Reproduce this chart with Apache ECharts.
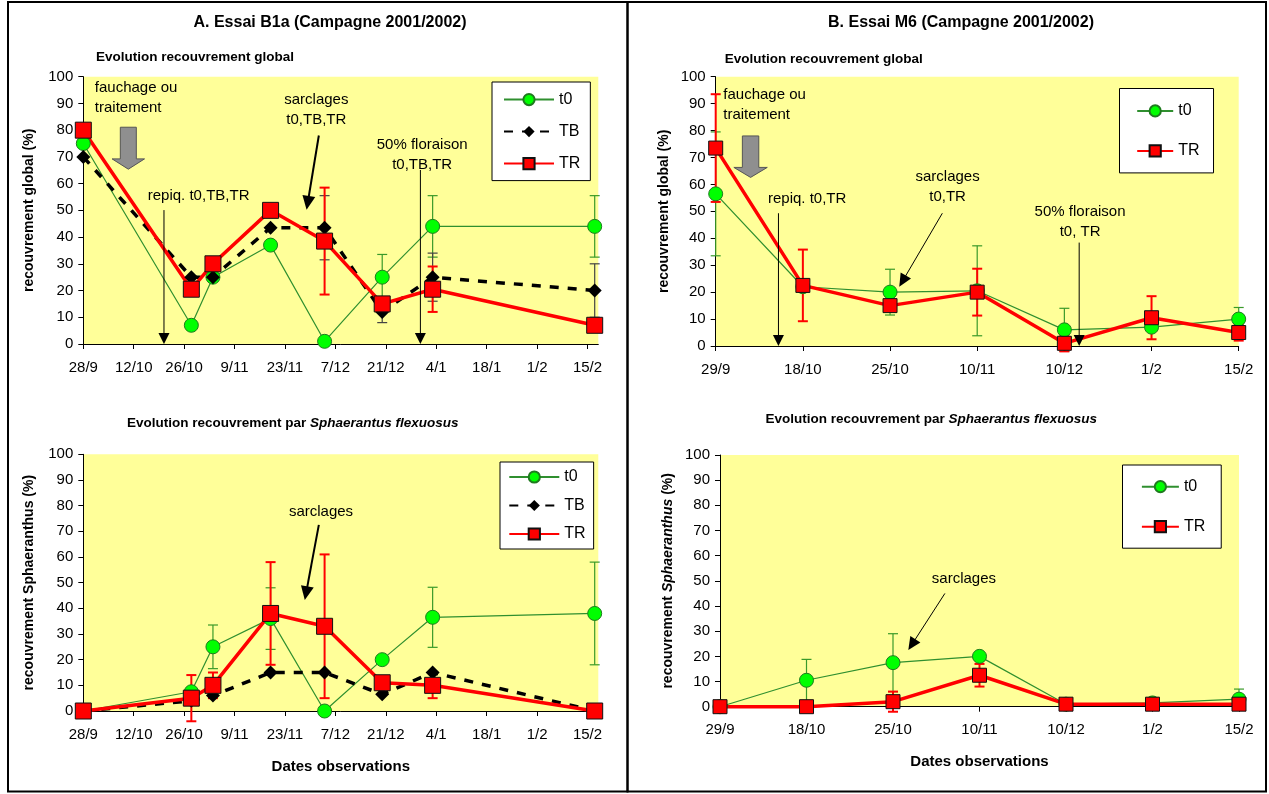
<!DOCTYPE html>
<html><head><meta charset="utf-8">
<script src="https://cdn.jsdelivr.net/npm/echarts@6/dist/echarts.min.js"></script>
<style>html,body{margin:0;padding:0;background:#fff}#c{width:1269px;height:794px}</style>
</head><body><div id="c"></div>
<script>
// ---------- DATA ----------
// Chart A (Essai B1a) observation dates
const obsDatesA = ['28/09/2001','28/10/2001','03/11/2001','19/11/2001','04/12/2001','20/12/2001','03/01/2002','17/02/2002'];
const tickLabelsA = ['28/9','12/10','26/10','9/11','23/11','7/12','21/12','4/1','18/1','1/2','15/2'];
// A top : recouvrement global
const aTopT0 = [75, 7, 25, 37, 1, 25, 44, 44];
const aTopTB = [70, 25, 25, 43.5, 43.5, 12, 25, 20];
const aTopTR = [80, 20.5, 30, 50, 38.5, 15, 20.5, 7];
const aTopT0Err = [null, null, null, null, null, 8.5, 11.5, 11.5];
const aTopTBErr = [null, null, null, null, 12, 4, 9, 10];
const aTopTRErr = [null, null, null, null, 20, null, 8.5, null];
// A bottom : recouvrement Sphaeranthus
const aBotT0 = [0, 7.5, 25, 36, 0, 20, 36.5, 38];
const aBotTB = [0, 4, 6, 15, 15, 6.5, 15, 0];
const aBotTR = [0, 5, 10, 38, 33, 11, 10, 0];
const aBotT0Err = [null, null, 8.5, 12, null, null, 11.7, 20];
const aBotTRErr = [null, 9, 5, 20, 28, null, 5, null];
// Chart B (Essai M6) categories
const catsB = ['29/9','18/10','25/10','10/11','10/12','1/2','15/2'];
const bTopT0 = [56.5, 22, 20, 20.5, 6, 7, 10];
const bTopTR = [73.5, 22.5, 15, 20, 1, 10.5, 5];
const bTopT0Err = [23, null, 8.5, 16.7, 8, null, 4.3];
const bTopTRErr = [20, 13.3, null, 8.7, 3, 8, 3];
const bBotT0 = [0, 10.5, 17.5, 20, 1, 1.5, 3];
const bBotTR = [0, 0, 2, 12.5, 1, 1, 1];
const bBotT0Err = [null, 8.3, 11.5, null, null, null, 4];
const bBotTRErr = [null, null, 4, 4.5, null, null, null];

// ---------- HELPERS ----------
const FONT = '"Liberation Sans", Arial, Helvetica, sans-serif';
const startA = Date.UTC(2001, 8, 28);
function dayOf(s){ const p = s.split('/').map(Number); return Math.round((Date.UTC(p[2], p[1]-1, p[0]) - startA)/86400000); }
const xA = obsDatesA.map(dayOf);
const xB = catsB.map((c,i)=>i);
const ticksA = tickLabelsA.map((t,i)=>i*14);

const GREEN_LINE = '#2f8f2f', GREEN_FILL = '#00ff00', GREEN_BORDER = '#1f7a1f';
const styles = {
  t0: (sz)=>({symbol:'circle', symbolSize:sz, itemStyle:{color:GREEN_FILL, borderColor:GREEN_BORDER, borderWidth:1}, lineStyle:{color:GREEN_LINE, width:1.2}}),
  TB: (sz)=>({symbol:'diamond', symbolSize:sz, itemStyle:{color:'#000', borderColor:'#000', borderWidth:0}, lineStyle:{color:'#000', width:3.5, type:[9,9]}}),
  TR: (sz)=>({symbol:'rect', symbolSize:sz, itemStyle:{color:'#ff0000', borderColor:'#111', borderWidth:1}, lineStyle:{color:'#ff0000', width:3.5}})
};
function lineSeries(name, k, xs, vals, sz, z){
  return Object.assign({type:'line', name, xAxisIndex:k, yAxisIndex:k, z, data: xs.map((x,i)=>[x, vals[i]]), showSymbol:true, clip:false, emphasis:{disabled:true}, silent:true}, styles[name](sz));
}
function errSeries(k, xs, vals, errs, color, width, z){
  const data = [];
  xs.forEach((x,i)=>{ if(errs[i]!=null) data.push([x, vals[i]-errs[i], vals[i]+errs[i]]); });
  return {type:'custom', xAxisIndex:k, yAxisIndex:k, z, silent:true, data, encode:{x:0, y:[1,2]},
    renderItem(params, api){
      const x = api.value(0);
      const lo = api.coord([x, api.value(1)]), hi = api.coord([x, api.value(2)]);
      const cw = 5, st = {stroke:color, lineWidth:width};
      return {type:'group', children:[
        {type:'line', shape:{x1:lo[0], y1:lo[1], x2:hi[0], y2:hi[1]}, style:st},
        {type:'line', shape:{x1:lo[0]-cw, y1:lo[1], x2:lo[0]+cw, y2:lo[1]}, style:st},
        {type:'line', shape:{x1:hi[0]-cw, y1:hi[1], x2:hi[0]+cw, y2:hi[1]}, style:st}
      ]};
    }};
}

const grids = [
  {left:83.3, top:76.7, width:515, height:267.3},
  {left:83.3, top:454.3, width:515, height:256.7},
  {left:715.7, top:76.7, width:523, height:269.3},
  {left:720, top:455, width:519, height:251.7}
].map(g=>Object.assign({show:true, backgroundColor:'#ffff99', borderWidth:0, containLabel:false}, g));

const axisCommon = {
  axisLine:{show:true, onZero:false, lineStyle:{color:'#000', width:1}},
  axisTick:{show:true, inside:false, length:5, lineStyle:{color:'#000', width:1}},
  splitLine:{show:false},
  axisLabel:{color:'#000', fontFamily:FONT, fontSize:15}
};
function xAxisA(k){
  return Object.assign({}, axisCommon, {type:'value', gridIndex:k, min:0, max:143,
    axisTick:Object.assign({}, axisCommon.axisTick, {customValues:ticksA}),
    axisLabel:Object.assign({}, axisCommon.axisLabel, {margin:16, customValues:ticksA, formatter:(v)=>tickLabelsA[Math.round(v/14)] || ''})});
}
function xAxisB(k){
  return Object.assign({}, axisCommon, {type:'value', gridIndex:k, min:0, max:6, interval:1,
    axisLabel:Object.assign({}, axisCommon.axisLabel, {margin:16, formatter:(v)=>catsB[v] || ''})});
}
const nameStyle = {color:'#000', fontFamily:FONT, fontSize:14, fontWeight:'bold'};
function yAxis(k, name, rich){
  const ns = Object.assign({}, nameStyle);
  if(rich) ns.rich = rich;
  return Object.assign({}, axisCommon, {type:'value', gridIndex:k, min:0, max:100, interval:10,
    name, nameLocation:'middle', nameRotate:90, nameGap:47, nameTextStyle:ns,
    axisLabel:Object.assign({}, axisCommon.axisLabel, {margin:10})});
}
const xNameStyle = {color:'#000', fontFamily:FONT, fontSize:15, fontWeight:'bold'};

const xAxes = [xAxisA(0), xAxisA(1), xAxisB(2), xAxisB(3)];
xAxes[1].name = 'Dates observations'; xAxes[1].nameLocation='middle'; xAxes[1].nameGap=48; xAxes[1].nameTextStyle=xNameStyle;
xAxes[3].name = 'Dates observations'; xAxes[3].nameLocation='middle'; xAxes[3].nameGap=48; xAxes[3].nameTextStyle=xNameStyle;

const yAxes = [
  yAxis(0, 'recouvrement global (%)'),
  yAxis(1, 'recouvrement Sphaeranthus (%)'),
  yAxis(2, 'recouvrement global (%)'),
  yAxis(3, '{n|recouvrement }{i|Sphaeranthus}{n| (%)}', {
    n:{fontFamily:FONT, fontSize:14, fontWeight:'bold', color:'#000'},
    i:{fontFamily:FONT, fontSize:14, fontWeight:'bold', fontStyle:'italic', color:'#000'}})
];
yAxes[2].nameGap = 45; yAxes[3].nameGap = 45;

const series = [
  // A top
  errSeries(0, xA, aTopT0, aTopT0Err, '#3a9a2a', 1.2, 1),
  errSeries(0, xA, aTopTB, aTopTBErr, '#444', 1.2, 1),
  errSeries(0, xA, aTopTR, aTopTRErr, '#ff0000', 2, 1),
  lineSeries('t0', 0, xA, aTopT0, 14, 2),
  lineSeries('TB', 0, xA, aTopTB, 14, 2),
  lineSeries('TR', 0, xA, aTopTR, 16, 2),
  // A bottom
  errSeries(1, xA, aBotT0, aBotT0Err, '#3a9a2a', 1.2, 1),
  errSeries(1, xA, aBotTR, aBotTRErr, '#ff0000', 2, 1),
  lineSeries('t0', 1, xA, aBotT0, 14, 2),
  lineSeries('TB', 1, xA, aBotTB, 14, 2),
  lineSeries('TR', 1, xA, aBotTR, 16, 2),
  // B top
  errSeries(2, xB, bTopT0, bTopT0Err, '#3a9a2a', 1.2, 1),
  errSeries(2, xB, bTopTR, bTopTRErr, '#ff0000', 2, 1),
  lineSeries('t0', 2, xB, bTopT0, 14, 2),
  lineSeries('TR', 2, xB, bTopTR, 14, 2),
  // B bottom
  errSeries(3, xB, bBotT0, bBotT0Err, '#3a9a2a', 1.2, 1),
  errSeries(3, xB, bBotTR, bBotTRErr, '#ff0000', 2, 1),
  lineSeries('t0', 3, xB, bBotT0, 14, 2),
  lineSeries('TR', 3, xB, bBotTR, 14, 2)
];

function legend(left, top, names, itemWidth, itemGap, padding){
  return {show:true, orient:'vertical', left, top, data:names, itemWidth, itemHeight:14, itemGap, padding,
    backgroundColor:'#fff', borderColor:'#000', borderWidth:1, borderRadius:0, selectedMode:false,
    textStyle:{color:'#000', fontFamily:FONT, fontSize:16}, inactiveColor:'#000'};
}
const legends = [
  legend(492, 82, ['t0','TB','TR'], 50, 16, [9.6, 10, 9, 11]),
  legend(500, 462, ['t0','TB','TR'], 50, 12.5, [7, 8, 7, 8.3]),
  legend(1119.5, 88.5, ['t0','TR'], 36, 24, [14.4, 14, 14, 16.7]),
  legend(1122.5, 465, ['t0','TR'], 37, 24, [13.7, 16, 13.5, 18.4])
];

const chart = echarts.init(document.getElementById('c'), null, {renderer:'canvas'});
chart.setOption({
  animation:false, backgroundColor:'#fff',
  grid:grids, xAxis:xAxes, yAxis:yAxes, series, legend:legends
});

// ---------- ANNOTATIONS (in data coordinates) ----------
const annText = [
  {k:0, t:'fauchage ou\ntraitement', at:[3.2, 92], align:'left'},
  {k:0, t:'repiq. t0,TB,TR', at:[17.9, 55.4], align:'left'},
  {k:0, t:'sarclages\nt0,TB,TR', at:[64.7, 87.5], align:'center'},
  {k:0, t:'50% floraison\nt0,TB,TR', at:[94.1, 70.7], align:'center'},
  {k:1, t:'sarclages', at:[66, 77.6], align:'center'},
  {k:2, t:'fauchage ou\ntraitement', at:[0.087, 89.5], align:'left'},
  {k:2, t:'repiq. t0,TR', at:[0.60, 54.5], align:'left'},
  {k:2, t:'sarclages\nt0,TR', at:[2.66, 59.2], align:'center'},
  {k:2, t:'50% floraison\nt0, TR', at:[4.18, 46.2], align:'center'},
  {k:3, t:'sarclages', at:[2.82, 50.6], align:'center'}
];
const annArrows = [
  {k:0, from:[22.4, 50.1], to:[22.4, 0], w:1, hl:11, hw:11},
  {k:0, from:[93.6, 65.1], to:[93.6, 0], w:1, hl:11, hw:11},
  {k:0, from:[65.4, 78], to:[62, 50.2], w:2, hl:14, hw:13},
  {k:1, from:[65.4, 72.5], to:[61.5, 43.2], w:2, hl:14, hw:13},
  {k:2, from:[0.72, 49.3], to:[0.72, 0], w:1, hl:11, hw:11},
  {k:2, from:[4.17, 38.4], to:[4.17, 0], w:1, hl:11, hw:11},
  {k:2, from:[2.60, 49.3], to:[2.106, 22], w:1, hl:13, hw:12},
  {k:3, from:[2.60, 45], to:[2.177, 22.5], w:1, hl:13, hw:12}
];
const annBlock = [
  {k:0, top:[12.5, 81.1], tip:[12.5, 65.4], sw:8, hw:16.2, hh:10.3},
  {k:2, top:[0.40, 78], tip:[0.40, 62.6], sw:8.2, hw:16.7, hh:10}
];

const px = (k, p)=>chart.convertToPixel({gridIndex:k}, p);
const g = [];
annText.forEach(a=>{
  const p = px(a.k, a.at);
  g.push({type:'text', silent:true, z:50, style:{text:a.t, x:p[0], y:p[1], align:a.align, verticalAlign:'middle', lineHeight:20, font:'15px '+FONT, fill:'#000'}});
});
annArrows.forEach(a=>{
  const p0 = px(a.k, a.from), p1 = px(a.k, a.to);
  const dx = p1[0]-p0[0], dy = p1[1]-p0[1], L = Math.hypot(dx, dy);
  const ux = dx/L, uy = dy/L, nx = -uy, ny = ux;
  const bx = p1[0]-ux*a.hl, by = p1[1]-uy*a.hl;
  g.push({type:'line', silent:true, z:50, shape:{x1:p0[0], y1:p0[1], x2:bx+ux*1, y2:by+uy*1}, style:{stroke:'#000', lineWidth:a.w}});
  g.push({type:'polygon', silent:true, z:50, shape:{points:[[p1[0],p1[1]],[bx+nx*a.hw/2, by+ny*a.hw/2],[bx-nx*a.hw/2, by-ny*a.hw/2]]}, style:{fill:'#000'}});
});
annBlock.forEach(a=>{
  const t = px(a.k, a.top), p = px(a.k, a.tip);
  const cx = t[0], hy = p[1]-a.hh;
  g.push({type:'polygon', silent:true, z:50, shape:{points:[[cx-a.sw,t[1]],[cx+a.sw,t[1]],[cx+a.sw,hy],[cx+a.hw,hy],[cx,p[1]],[cx-a.hw,hy],[cx-a.sw,hy]]},
    style:{fill:'#8f8f8f', stroke:'#555', lineWidth:1}});
});
// titles
const titleFont = 'bold 16px '+FONT;
g.push({type:'text', silent:true, style:{text:'A. Essai B1a (Campagne 2001/2002)', x:330, y:23, align:'center', verticalAlign:'middle', font:titleFont, fill:'#000'}});
g.push({type:'text', silent:true, style:{text:'B. Essai M6 (Campagne 2001/2002)', x:961, y:23, align:'center', verticalAlign:'middle', font:titleFont, fill:'#000'}});
const subFont = 'bold 13.5px '+FONT;
g.push({type:'text', silent:true, style:{text:'Evolution recouvrement global', x:96, y:57.5, align:'left', verticalAlign:'middle', font:subFont, fill:'#000'}});
g.push({type:'text', silent:true, style:{text:'Evolution recouvrement global', x:724.7, y:59.3, align:'left', verticalAlign:'middle', font:subFont, fill:'#000'}});
const richSub = {n:{font:subFont, fill:'#000'}, i:{font:'italic bold 13.5px '+FONT, fill:'#000'}};
g.push({type:'text', silent:true, style:{text:'{n|Evolution recouvrement par }{i|Sphaerantus flexuosus}', x:127, y:423, align:'left', verticalAlign:'middle', rich:richSub}});
g.push({type:'text', silent:true, style:{text:'{n|Evolution recouvrement par }{i|Sphaerantus flexuosus}', x:765.5, y:419.3, align:'left', verticalAlign:'middle', rich:richSub}});
// frames
const fr = {stroke:'#000', lineWidth:2};
g.push({type:'rect', silent:true, shape:{x:8, y:2, width:619.5, height:789.5}, style:Object.assign({fill:null}, fr)});
g.push({type:'rect', silent:true, shape:{x:627.5, y:2, width:638.5, height:789.5}, style:Object.assign({fill:null}, fr)});

chart.setOption({graphic:g});
</script></body></html>
